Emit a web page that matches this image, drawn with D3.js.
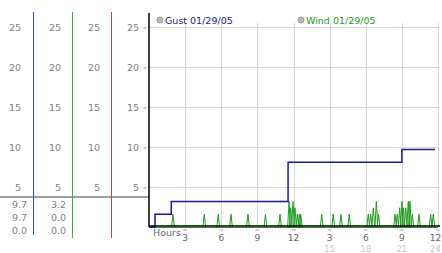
<!DOCTYPE html>
<html>
<head>
<meta charset="utf-8">
<script src="https://cdn.jsdelivr.net/npm/d3@7"></script>
<style>
  body { margin: 0; background: #fff; }
  svg { display: block; }
  text { font-family: "DejaVu Sans", Verdana, sans-serif; }
</style>
</head>
<body>
<div id="chart"></div>
<script>
// y ticks, shared by the four left columns and the plot
const yTicks = [5, 10, 15, 20, 25];

// x ticks in hours (clock labels + 24h labels)
const xTicks = [3, 6, 9, 12, 15, 18, 21, 24];
const xClockLabels = ["3", "6", "9", "12", "3", "6", "9", "12"];
const x24Labels = ["", "", "", "", "15", "18", "21", "24"];

// Gust 01/29/05 (step line)
const gustHours = [0, 0.5, 1.85, 11.55, 21.0, 23.75];
const gustValues = [0, 1.6, 3.2, 8.1, 9.7, 9.7];

// Wind 01/29/05 readings above zero
const windHours = [1.99, 4.59, 5.75, 6.81, 8.22, 9.67, 10.88, 11.63, 11.77, 11.96,
  12.12, 12.32, 12.48, 12.6, 14.34, 15.3, 15.94, 16.63, 18.21, 18.41, 18.63,
  18.88, 19.06, 20.43, 20.62, 20.82, 21.01, 21.13, 21.32, 21.53, 21.67, 21.87,
  22.42, 23.39, 23.61];
const windValues = [1.6, 1.6, 1.6, 1.6, 1.6, 1.6, 1.6, 3.2, 2.4, 3.2,
  2.4, 1.6, 1.6, 1.6, 1.6, 1.6, 1.6, 1.6, 1.6, 1.6, 2.4,
  3.2, 1.6, 1.6, 1.6, 2.4, 3.2, 2.4, 2.4, 3.2, 3.2, 1.6,
  1.6, 1.6, 1.6];

// readouts under the left columns
const gustReadout = ["9.7", "9.7", "0.0"];
const windReadout = ["3.2", "0.0", "0.0"];

const series = [
  { name: "Gust 01/29/05", color: "#1a1a8e" },
  { name: "Wind 01/29/05", color: "#1f9a1f" }
];

const W = 442, H = 253;
const svg = d3.select("#chart").append("svg")
  .attr("width", W)
  .attr("height", H);

const x = d3.scaleLinear().domain([0, 24]).range([149, 438]);
const y = d3.scaleLinear().domain([0, 25]).range([227, 27]);

// grid
svg.append("g").selectAll("line")
  .data(yTicks)
  .join("line")
  .attr("x1", x(0)).attr("x2", x(24))
  .attr("y1", d => y(d) + 0.5).attr("y2", d => y(d) + 0.5)
  .attr("stroke", "#d8d8d8");

svg.append("g").selectAll("line")
  .data(xTicks)
  .join("line")
  .attr("x1", d => Math.round(x(d)) + 0.5).attr("x2", d => Math.round(x(d)) + 0.5)
  .attr("y1", 23).attr("y2", y(0))
  .attr("stroke", "#d8d8d8");

// left columns of y labels
const colRight = [21, 61, 100, 139];
colRight.forEach(cx => {
  const ax = svg.append("g")
    .attr("transform", `translate(${cx},0)`)
    .call(d3.axisLeft(y).tickValues(yTicks).tickSize(0).tickPadding(0));
  ax.select(".domain").remove();
  ax.selectAll("text")
    .attr("fill", "#808080")
    .attr("font-size", 9.5)
    .attr("font-family", "DejaVu Sans, Verdana, sans-serif");
});

// small tick glyphs on the plot's y axis
svg.append("g").selectAll("text")
  .data(yTicks)
  .join("text")
  .attr("x", 145).attr("y", d => y(d) + 3)
  .attr("text-anchor", "middle")
  .attr("font-size", 6)
  .attr("fill", "#aaa")
  .text("≈");

// separator
svg.append("line")
  .attr("x1", 0).attr("x2", 149)
  .attr("y1", 197).attr("y2", 197)
  .attr("stroke", "#a0a0a0").attr("stroke-width", 2);

// column dividers
const dividers = [
  { x: 33.5, y2: 235, color: "#3050c0" },
  { x: 72.5, y2: 238, color: "#3aae3a" },
  { x: 111.5, y2: 238, color: "#c84040" }
];
svg.append("g").selectAll("line")
  .data(dividers)
  .join("line")
  .attr("x1", d => d.x).attr("x2", d => d.x)
  .attr("y1", 12).attr("y2", d => d.y2)
  .attr("stroke", d => d.color);

// readouts
const rowY = [208, 221, 234];
[[gustReadout, 27], [windReadout, 66]].forEach(([vals, rx]) => {
  svg.append("g").selectAll("text")
    .data(vals)
    .join("text")
    .attr("x", rx).attr("y", (d, i) => rowY[i])
    .attr("text-anchor", "end")
    .attr("font-size", 9.5)
    .attr("fill", "#808080")
    .text(d => d);
});

// wind: zero baseline and spikes
svg.append("line")
  .attr("x1", x(0)).attr("x2", x(24))
  .attr("y1", y(0) + 0.5).attr("y2", y(0) + 0.5)
  .attr("stroke", series[1].color);

svg.append("g").selectAll("path")
  .data(windHours.map((h, i) => [h, windValues[i]]))
  .join("path")
  .attr("d", d => `M${x(d[0]) - 1.4},${y(0)} L${x(d[0])},${y(d[1])} L${x(d[0]) + 1.4},${y(0)}`)
  .attr("fill", "none")
  .attr("stroke", series[1].color)
  .attr("stroke-width", 1);

// gust step line
const gustLine = d3.line()
  .x((d, i) => x(gustHours[i]))
  .y(d => y(d))
  .curve(d3.curveStepAfter);
svg.append("path")
  .attr("d", gustLine(gustValues))
  .attr("fill", "none")
  .attr("stroke", series[0].color)
  .attr("stroke-width", 1.5);

// axes lines
svg.append("line")
  .attr("x1", 149).attr("x2", 149)
  .attr("y1", 13).attr("y2", 227)
  .attr("stroke", "#000").attr("stroke-width", 1.5);
svg.append("line")
  .attr("x1", 149).attr("x2", 440)
  .attr("y1", 226).attr("y2", 226)
  .attr("stroke", "#000").attr("stroke-width", 1.5);

// keep the right-most labels inside the picture
const labelX = d => Math.min(x(d), 435.5);

// x axis labels
const xa = svg.append("g")
  .attr("transform", `translate(0,${y(0)})`)
  .call(d3.axisBottom(x).tickValues(xTicks).tickSize(0).tickPadding(7.5)
    .tickFormat((d, i) => xClockLabels[i]));
xa.select(".domain").remove();
xa.selectAll(".tick").attr("transform", d => `translate(${labelX(d)},0)`);
xa.selectAll("text")
  .attr("fill", "#666")
  .attr("font-size", 9)
  .attr("font-family", "DejaVu Sans, Verdana, sans-serif");

svg.append("g").selectAll("text")
  .data(xTicks)
  .join("text")
  .attr("x", labelX).attr("y", 251.5)
  .attr("text-anchor", "middle")
  .attr("font-size", 8.5)
  .attr("fill", "#c8c8c8")
  .text((d, i) => x24Labels[i]);

svg.append("g").selectAll("text")
  .data(xTicks)
  .join("text")
  .attr("x", d => x(d)).attr("y", 232)
  .attr("text-anchor", "middle")
  .attr("font-size", 6)
  .attr("fill", "#aaa")
  .text("≈");

svg.append("text")
  .attr("x", 153).attr("y", 236)
  .attr("font-size", 9.5)
  .attr("fill", "#666")
  .text("Hours");

// legend
const legendX = [160, 301];
const lg = svg.append("g").selectAll("g")
  .data(series)
  .join("g")
  .attr("transform", (d, i) => `translate(${legendX[i]},20)`);
lg.append("circle")
  .attr("r", 3)
  .attr("fill", "#bbb")
  .attr("stroke", "#999");
lg.append("text")
  .attr("x", 5).attr("y", 3.5)
  .attr("font-size", 9.5)
  .attr("fill", d => d.color)
  .text(d => d.name);
</script>
</body>
</html>
